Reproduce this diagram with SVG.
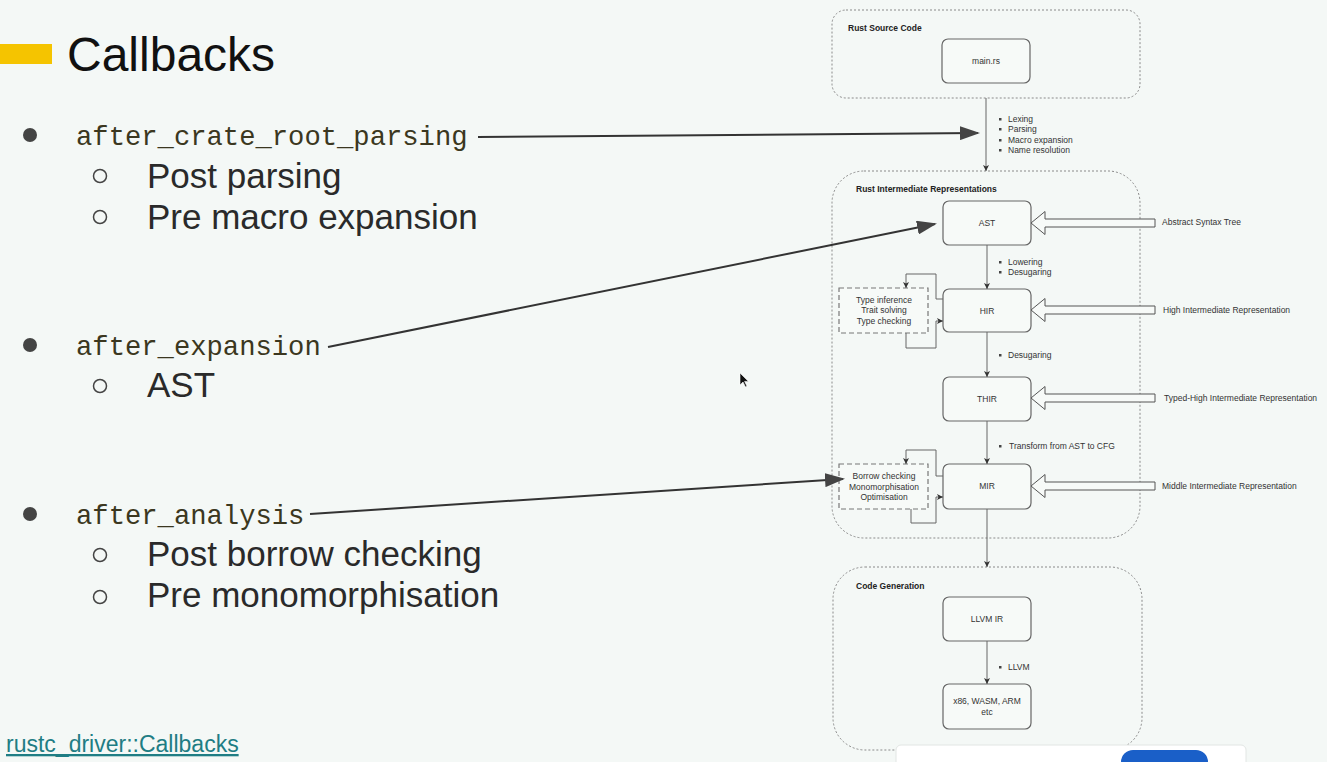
<svg xmlns="http://www.w3.org/2000/svg" width="1327" height="762" viewBox="0 0 1327 762">
<style>
.title{font-family:"Liberation Sans",Arial,sans-serif;font-size:48px;fill:#111}
.code{font-family:"Liberation Mono","Courier New",monospace;font-size:27.2px;fill:#3b3720}
.sub{font-family:"Liberation Sans",Arial,sans-serif;font-size:35px;fill:#2a2a2a}
.link{font-family:"Liberation Sans",Arial,sans-serif;font-size:23px;fill:#1f7d84;text-decoration:underline}
.grp{fill:none;stroke:#8a8a8a;stroke-width:1;stroke-dasharray:2,2}
.gl{font-family:"Liberation Sans",Arial,sans-serif;font-size:8.5px;font-weight:bold;fill:#222}
.box{fill:#f7faf8;stroke:#666;stroke-width:1.2}
.dbox{fill:#f7faf8;stroke:#777;stroke-width:1.2;stroke-dasharray:5,3}
.nl{font-family:"Liberation Sans",Arial,sans-serif;font-size:8.5px;fill:#333;text-anchor:middle}
.an{font-family:"Liberation Sans",Arial,sans-serif;font-size:8.5px;fill:#333}
.ln{fill:none;stroke:#666;stroke-width:1}
.call{fill:none;stroke:#333;stroke-width:2}
.hollow{fill:#f7faf8;stroke:#555;stroke-width:1}
.bul{fill:#444}
.sb{fill:none;stroke:#444;stroke-width:1.5}
.sq{fill:#444}
</style>
<defs>
<marker id="big" markerUnits="userSpaceOnUse" markerWidth="20" markerHeight="14" refX="18" refY="7" orient="auto">
<path d="M0,0 L20,7 L0,14 Z" fill="#444"/>
</marker>
<marker id="sm" markerUnits="userSpaceOnUse" markerWidth="7" markerHeight="6" refX="6" refY="3" orient="auto">
<path d="M0,0 L6,3 L0,6 L1.5,3 Z" fill="#333"/>
</marker>
</defs>
<rect x="0" y="0" width="1327" height="762" fill="#f4f8f6"/>

<g id="title">
<rect x="0" y="44" width="52" height="20" fill="#f5c400"/>
<text class="title" x="67" y="71">Callbacks</text>
</g>

<g id="bullets">
<circle class="bul" cx="30" cy="135" r="7"/>
<text class="code" x="76" y="145">after_crate_root_parsing</text>
<circle class="sb" cx="100" cy="176" r="6.5"/>
<text class="sub" x="147" y="188">Post parsing</text>
<circle class="sb" cx="100" cy="217" r="6.5"/>
<text class="sub" x="147" y="229">Pre macro expansion</text>

<circle class="bul" cx="30" cy="345" r="7"/>
<text class="code" x="76" y="355">after_expansion</text>
<circle class="sb" cx="100" cy="386" r="6.5"/>
<text class="sub" x="147" y="397">AST</text>

<circle class="bul" cx="30" cy="514" r="7"/>
<text class="code" x="76" y="524">after_analysis</text>
<circle class="sb" cx="100" cy="555" r="6.5"/>
<text class="sub" x="147" y="566">Post borrow checking</text>
<circle class="sb" cx="100" cy="597" r="6.5"/>
<text class="sub" x="147" y="607">Pre monomorphisation</text>
</g>

<g id="link">
<text class="link" x="6" y="752">rustc_driver::Callbacks</text>
</g>

<g id="grp-source">
<rect class="grp" x="832" y="10" width="308" height="88" rx="14"/>
<text class="gl" x="848" y="31">Rust Source Code</text>
</g>
<g id="node-main">
<rect class="box" x="942" y="39" width="88" height="44" rx="6"/>
<text class="nl" x="986" y="64">main.rs</text>
</g>

<g id="grp-ir">
<rect class="grp" x="832" y="171" width="308" height="367" rx="32"/>
<text class="gl" x="856" y="192">Rust Intermediate Representations</text>
</g>
<g id="node-ast">
<rect class="box" x="943" y="201" width="88" height="44" rx="6"/>
<text class="nl" x="987" y="226">AST</text>
</g>
<g id="node-hir">
<rect class="box" x="943" y="289" width="88" height="43" rx="6"/>
<text class="nl" x="987" y="314">HIR</text>
</g>
<g id="node-thir">
<rect class="box" x="943" y="377" width="88" height="44" rx="6"/>
<text class="nl" x="987" y="402">THIR</text>
</g>
<g id="node-mir">
<rect class="box" x="943" y="464" width="88" height="45" rx="6"/>
<text class="nl" x="987" y="489">MIR</text>
</g>
<g id="node-typeck">
<rect class="dbox" x="839" y="288" width="89" height="45"/>
<text class="nl" x="884" y="303">Type inference</text>
<text class="nl" x="884" y="313">Trait solving</text>
<text class="nl" x="884" y="324">Type checking</text>
</g>
<g id="node-borrowck">
<rect class="dbox" x="839" y="464" width="89" height="45"/>
<text class="nl" x="884" y="479">Borrow checking</text>
<text class="nl" x="884" y="490">Monomorphisation</text>
<text class="nl" x="884" y="500">Optimisation</text>
</g>

<g id="grp-codegen">
<rect class="grp" x="833" y="567" width="309" height="183" rx="32"/>
<text class="gl" x="856" y="589">Code Generation</text>
</g>
<g id="node-llvmir">
<rect class="box" x="943" y="597" width="88" height="44" rx="6"/>
<text class="nl" x="987" y="622">LLVM IR</text>
</g>
<g id="node-targets">
<rect class="box" x="943" y="684" width="88" height="45" rx="6"/>
<text class="nl" x="987" y="704">x86, WASM, ARM</text>
<text class="nl" x="987" y="715">etc</text>
</g>

<g id="labels-right">
<text class="an" x="1162" y="225">Abstract Syntax Tree</text>
<text class="an" x="1163" y="313">High Intermediate Representation</text>
<text class="an" x="1164" y="401">Typed-High Intermediate Representation</text>
<text class="an" x="1162" y="489">Middle Intermediate Representation</text>
</g>

<g id="annotations">
<rect class="sq" x="999" y="118" width="2.5" height="2.5"/><text class="an" x="1008" y="122">Lexing</text>
<rect class="sq" x="999" y="128" width="2.5" height="2.5"/><text class="an" x="1008" y="132">Parsing</text>
<rect class="sq" x="999" y="139" width="2.5" height="2.5"/><text class="an" x="1008" y="143">Macro expansion</text>
<rect class="sq" x="999" y="149" width="2.5" height="2.5"/><text class="an" x="1008" y="153">Name resolution</text>
<rect class="sq" x="999" y="261" width="2.5" height="2.5"/><text class="an" x="1008" y="265">Lowering</text>
<rect class="sq" x="999" y="271" width="2.5" height="2.5"/><text class="an" x="1008" y="275">Desugaring</text>
<rect class="sq" x="999" y="354" width="2.5" height="2.5"/><text class="an" x="1008" y="358">Desugaring</text>
<rect class="sq" x="999" y="445" width="2.5" height="2.5"/><text class="an" x="1009" y="449">Transform from AST to CFG</text>
<rect class="sq" x="999" y="666" width="2.5" height="2.5"/><text class="an" x="1008" y="670">LLVM</text>
</g>

<g id="connectors">
<line class="ln" x1="986" y1="98" x2="986" y2="171" marker-end="url(#sm)"/>
<line class="ln" x1="987" y1="245" x2="987" y2="289" marker-end="url(#sm)"/>
<line class="ln" x1="987" y1="332" x2="987" y2="377" marker-end="url(#sm)"/>
<line class="ln" x1="987" y1="421" x2="987" y2="464" marker-end="url(#sm)"/>
<line class="ln" x1="987" y1="509" x2="987" y2="567" marker-end="url(#sm)"/>
<line class="ln" x1="987" y1="641" x2="987" y2="684" marker-end="url(#sm)"/>
<path class="ln" d="M943,299 H936 V274 H906 V288" marker-end="url(#sm)"/>
<path class="ln" d="M906,333 V348 H936 V321 H943" marker-end="url(#sm)"/>
<path class="ln" d="M943,476 H936 V450 H906 V464" marker-end="url(#sm)"/>
<path class="ln" d="M911,509 V523 H936 V497 H943" marker-end="url(#sm)"/>
<path class="hollow" d="M1031,223 L1045,211.5 V219 H1155 V227 H1045 V234.5 Z"/>
<path class="hollow" d="M1031,310 L1045,298.5 V306 H1155 V314 H1045 V321.5 Z"/>
<path class="hollow" d="M1031,398 L1045,386.5 V394 H1155 V402 H1045 V409.5 Z"/>
<path class="hollow" d="M1031,486 L1045,474.5 V482 H1155 V490 H1045 V497.5 Z"/>
<line class="call" x1="478" y1="137" x2="978" y2="133" marker-end="url(#big)"/>
<line class="call" x1="328" y1="347" x2="935" y2="224" marker-end="url(#big)"/>
<line class="call" x1="310" y1="514" x2="843" y2="479" marker-end="url(#big)"/>
</g>

<g id="cursor">
<path d="M740,373 L740,385 L743,382 L745.5,387 L747,386.3 L744.6,381.4 L748.5,381.4 Z" fill="#111" stroke="#fff" stroke-width="0.6"/>
</g>

<g id="popup">
<rect x="896" y="745" width="350" height="30" rx="5" fill="#ffffff" stroke="#e2e6e4" stroke-width="1"/>
<rect x="1121" y="750" width="87" height="24" rx="12" fill="#1a5fc8"/>
</g>
</svg>
